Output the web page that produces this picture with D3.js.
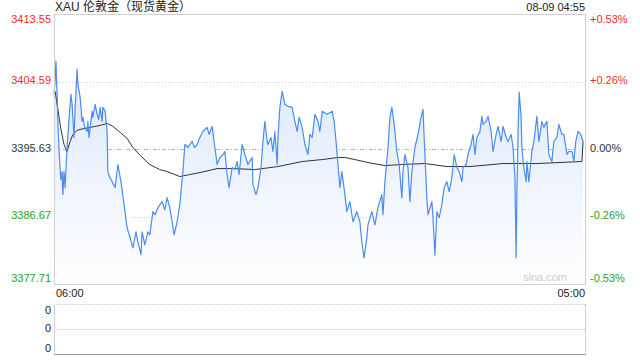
<!DOCTYPE html>
<html>
<head>
<meta charset="utf-8">
<script src="https://cdn.jsdelivr.net/npm/d3@7"></script>
<style>
  html, body { margin: 0; padding: 0; background: #fff; }
  svg { display: block; font-family: "Liberation Sans", Arial, "Noto Sans CJK SC", sans-serif; }
</style>
</head>
<body>
<svg id="chart" width="640" height="360"></svg>
<script>
// minutes after 06:00 and the price at that minute
const priceMinutes = [0,3,5,8,10,13,16,18,21,23,26,29,31,34,39,44,47,52,55,60,62,68,73,75,80,86,88,91,95,99,101,107,112,116,120,125,127,133,138,140,145,151,159,166,174,182,190,198,205,213,218,226,229,236,244,249,257,263,270,281,288,294,301,307,312,320,327,335,340,348,359,365,372,379,387,398,403,411,416,424,431,439,444,450,455,463,470,476,481,489,496,504,515,517,525,530,538,543,548,554,556,564,569,574,580,582,587,593,600,608,619,626,632,637,645,652,660,665,671,678,686,691,697,710,723,728,733,738,743,748,756,761,769,777,787,795,800,806,813,816,826,834,842,852,855,860,868,873,878,884,891,897,904,907,912,920,925,930,938,946,954,959,962,969,972,982,985,990,995,1001,1008,1014,1021,1027,1034,1040,1047,1053,1060,1063,1071,1076,1084,1089,1094,1099,1107,1112,1115,1123,1128,1136,1141,1149,1154,1162,1167,1175,1180,1188,1193,1198,1201,1203,1206,1209,1214,1216,1221,1227,1229,1234,1242,1247,1255,1260,1268,1273,1281,1286,1294,1299,1307,1312,1320,1325,1333,1338,1346,1351,1356,1362,1369,1375];
const prices = [3402.89,3404.89,3407.29,3402.89,3399.30,3395.57,3392.90,3391.57,3392.63,3389.57,3392.63,3390.50,3392.90,3395.83,3399.56,3402.89,3401.56,3397.16,3401.16,3406.22,3404.23,3402.49,3399.30,3399.83,3398.50,3397.96,3399.30,3397.16,3398.90,3400.63,3399.83,3401.56,3400.23,3399.56,3401.16,3399.30,3401.16,3400.63,3397.96,3392.63,3391.84,3391.30,3390.50,3393.57,3391.30,3388.24,3385.17,3383.84,3382.51,3384.64,3383.31,3381.58,3384.64,3382.91,3384.64,3384.24,3387.31,3386.91,3387.84,3388.64,3387.57,3389.17,3387.84,3385.97,3384.24,3385.97,3388.24,3392.63,3396.23,3395.83,3396.63,3395.83,3396.23,3397.16,3397.96,3398.50,3397.56,3398.63,3396.63,3393.57,3394.50,3394.90,3395.30,3392.24,3390.50,3393.17,3392.90,3393.97,3392.24,3396.23,3394.90,3393.57,3394.50,3390.90,3389.57,3390.50,3393.17,3396.63,3399.30,3396.63,3396.23,3397.16,3395.30,3397.96,3393.57,3397.16,3401.16,3403.29,3401.56,3401.29,3401.16,3399.30,3397.96,3399.83,3398.50,3396.23,3394.90,3397.56,3397.16,3400.23,3399.30,3397.96,3400.63,3400.23,3400.63,3399.30,3396.63,3393.57,3390.50,3392.63,3389.57,3387.31,3388.64,3385.97,3387.31,3385.97,3383.31,3381.18,3383.84,3385.57,3387.31,3385.57,3387.84,3389.57,3386.91,3391.30,3395.83,3399.83,3401.16,3398.90,3395.30,3393.57,3389.17,3392.63,3394.90,3393.17,3388.64,3392.63,3395.83,3397.56,3399.83,3400.89,3397.16,3389.17,3386.91,3388.64,3386.51,3381.58,3387.31,3386.51,3388.24,3390.50,3391.30,3389.97,3391.84,3394.90,3393.17,3392.63,3391.30,3393.17,3393.57,3394.90,3396.23,3397.56,3394.90,3397.16,3397.96,3399.96,3398.90,3399.30,3399.96,3397.96,3395.30,3397.56,3398.63,3396.63,3398.63,3397.16,3396.63,3397.56,3395.83,3391.84,3381.18,3389.57,3397.96,3403.16,3399.83,3395.83,3393.17,3391.30,3393.97,3391.30,3395.30,3396.63,3399.96,3396.63,3399.30,3398.50,3399.30,3394.90,3393.97,3396.63,3397.16,3398.90,3397.56,3397.56,3394.90,3395.30,3395.30,3393.97,3396.63,3397.96,3397.56,3396.63];

// average price line
const avgMinutes = [3,10,18,26,34,42,49,60,68,94,120,138,153,172,190,205,224,249,275,294,314,327,353,379,424,470,522,582,645,697,738,756,782,816,860,904,964,1021,1081,1167,1255,1372,1375];
const avgPrices = [3403.29,3400.89,3398.23,3396.23,3395.30,3396.63,3397.56,3398.10,3398.23,3398.50,3398.76,3399.03,3398.63,3397.83,3397.03,3395.83,3394.77,3393.57,3392.90,3392.63,3392.24,3391.97,3392.24,3392.50,3393.03,3393.03,3392.90,3393.30,3393.97,3394.23,3394.50,3394.50,3394.23,3393.83,3393.43,3393.57,3393.70,3393.30,3393.30,3393.70,3393.70,3393.97,3396.63];

const prevClose = 3395.63;
const priceTicks = [3413.55, 3404.59, 3395.63, 3386.67, 3377.71];
const pctTicks = ["+0.53%", "+0.26%", "0.00%", "-0.26%", "-0.53%"];
const timeLabels = ["06:00", "05:00"];
const volTicks = ["0", "0", "0"];

const title = "XAU 伦敦金（现货黄金）";
const stamp = "08-09 04:55";

const svg = d3.select("#chart");

const plotLeft = 54, plotRight = 585, plotTop = 14, plotBottom = 284;
const volTop = 304, volBottom = 354;

const start = new Date(2025, 7, 8, 6, 0);
const toDate = m => new Date(start.getTime() + m * 60000);

const x = d3.scaleTime()
    .domain([start, toDate(1380)])
    .range([plotLeft, plotRight]);

const y = d3.scaleLinear()
    .domain([priceTicks[4], priceTicks[0]])
    .range([plotBottom, plotTop]);

const priceData = priceMinutes.map((m, i) => ({ t: toDate(m), v: prices[i] }));
const avgData = avgMinutes.map((m, i) => ({ t: toDate(m), v: avgPrices[i] }));

// gradient under the price line
const defs = svg.append("defs");
const grad = defs.append("linearGradient")
    .attr("id", "fillGrad")
    .attr("gradientUnits", "userSpaceOnUse")
    .attr("x1", 0).attr("y1", plotTop)
    .attr("x2", 0).attr("y2", plotBottom);
grad.append("stop").attr("offset", "0%").attr("stop-color", "#d3e2fa");
grad.append("stop").attr("offset", "100%").attr("stop-color", "#ffffff");

// grid lines
priceTicks.slice(1, 4).forEach(v => {
    svg.append("line")
        .attr("x1", plotLeft).attr("x2", plotRight)
        .attr("y1", Math.round(y(v)) + 0.5).attr("y2", Math.round(y(v)) + 0.5)
        .attr("stroke", v === prevClose ? "#b4b4b4" : "#cfcfcf")
        .attr("stroke-dasharray", v === prevClose ? "4,2,1,2" : "1,2");
});

// area + lines
svg.append("path")
    .datum(priceData)
    .attr("d", d3.area().x(d => x(d.t)).y0(plotBottom).y1(d => y(d.v)))
    .attr("fill", "url(#fillGrad)");

svg.append("path")
    .datum(avgData)
    .attr("d", d3.line().x(d => x(d.t)).y(d => y(d.v)))
    .attr("fill", "none")
    .attr("stroke", "#333")
    .attr("stroke-width", 1);

svg.append("path")
    .datum(priceData)
    .attr("d", d3.line().x(d => x(d.t)).y(d => y(d.v)))
    .attr("fill", "none")
    .attr("stroke", "#4a8cf0")
    .attr("stroke-width", 1.2)
    .attr("stroke-linejoin", "round");

// frame
svg.append("rect")
    .attr("x", plotLeft + 0.5).attr("y", plotTop + 0.5)
    .attr("width", plotRight - plotLeft).attr("height", plotBottom - plotTop)
    .attr("fill", "none")
    .attr("stroke", "#d0d0d0");

// watermark
svg.append("text")
    .attr("x", plotRight - 18).attr("y", plotBottom - 3)
    .attr("text-anchor", "end")
    .attr("font-size", 11)
    .attr("fill", "#cccccc")
    .text("sina.com");

// axis labels
const labelColor = v => v > prevClose ? "#f42b2b" : (v < prevClose ? "#26a326" : "#333");
priceTicks.forEach((v, i) => {
    let yy = y(v), base = "middle";
    if (i === 0) { yy = plotTop + 1; base = "hanging"; }
    if (i === priceTicks.length - 1) { yy = plotBottom - 2; base = "auto"; }
    svg.append("text")
        .attr("x", plotLeft - 3).attr("y", yy)
        .attr("text-anchor", "end")
        .attr("dominant-baseline", base)
        .attr("font-size", 11)
        .attr("fill", labelColor(v))
        .text(v.toFixed(2));
    svg.append("text")
        .attr("x", plotRight + 5).attr("y", yy)
        .attr("text-anchor", "start")
        .attr("dominant-baseline", base)
        .attr("font-size", 11)
        .attr("fill", labelColor(v))
        .text(pctTicks[i]);
});

// title and time stamp
svg.append("text")
    .attr("x", plotLeft + 1).attr("y", 11)
    .attr("font-size", 12)
    .attr("fill", "#222")
    .text(title);

svg.append("text")
    .attr("x", plotRight).attr("y", 11)
    .attr("text-anchor", "end")
    .attr("font-size", 11)
    .attr("fill", "#222")
    .text(stamp);

// time labels
svg.append("text")
    .attr("x", x(start) + 2).attr("y", 297)
    .attr("font-size", 11).attr("fill", "#222")
    .text(timeLabels[0]);
svg.append("text")
    .attr("x", x(toDate(1380))).attr("y", 297)
    .attr("text-anchor", "end")
    .attr("font-size", 11).attr("fill", "#222")
    .text(timeLabels[1]);

// volume panel
const vy = d3.scaleLinear().domain([0, 2]).range([volTop, volBottom]);
[0, 1].forEach(i => {
    svg.append("line")
        .attr("x1", plotLeft).attr("x2", plotRight)
        .attr("y1", vy(i) + 0.5).attr("y2", vy(i) + 0.5)
        .attr("stroke", "#c8c8c8")
        .attr("stroke-dasharray", "1,1");
});
svg.append("line")
    .attr("x1", plotLeft).attr("x2", plotRight + 1)
    .attr("y1", volBottom + 0.5).attr("y2", volBottom + 0.5)
    .attr("stroke", "#9a9a9a");
[plotLeft, plotRight].forEach(xx => {
    svg.append("line")
        .attr("x1", xx + 0.5).attr("x2", xx + 0.5)
        .attr("y1", volTop).attr("y2", volBottom)
        .attr("stroke", "#d0d0d0");
});
volTicks.forEach((t, i) => {
    let yy = vy(i), base = "middle";
    if (i === 0) { yy = volTop + 2; base = "hanging"; }
    if (i === 2) { yy = volBottom - 2; base = "auto"; }
    svg.append("text")
        .attr("x", plotLeft - 3).attr("y", yy)
        .attr("text-anchor", "end")
        .attr("dominant-baseline", base)
        .attr("font-size", 11)
        .attr("fill", "#222")
        .text(t);
});
</script>
</body>
</html>
